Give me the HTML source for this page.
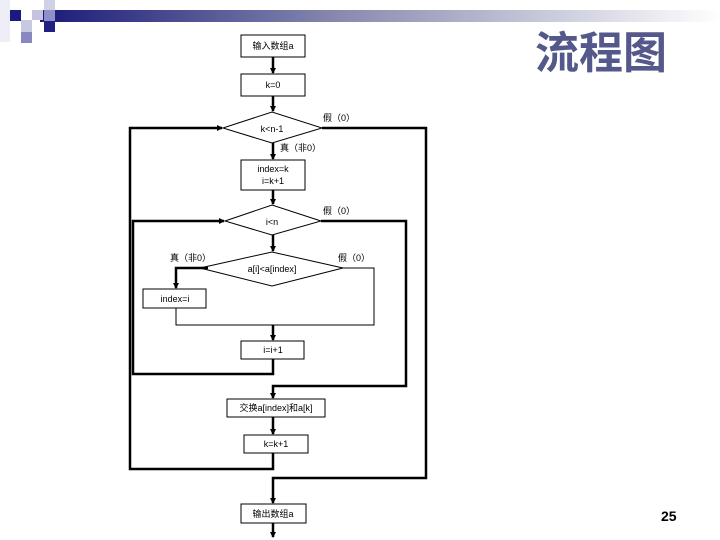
<!DOCTYPE html>
<html><head><meta charset="utf-8"><style>
html,body{margin:0;padding:0;background:#fff;}
svg{display:block;}
text{font-family:"Liberation Sans","Noto Sans CJK SC",sans-serif;}
</style></head><body>
<svg width="720" height="540" viewBox="0 0 720 540" xmlns="http://www.w3.org/2000/svg">
<defs>
<linearGradient id="g" x1="0" x2="1" y1="0" y2="0">
<stop offset="0" stop-color="#1a1a78"/><stop offset="0.45" stop-color="#8a8cb0"/><stop offset="1" stop-color="#ffffff"/>
</linearGradient>
<marker id="a" markerWidth="6" markerHeight="6" refX="5" refY="3" orient="auto" markerUnits="userSpaceOnUse">
<path d="M0,0 L6,3 L0,6 z" fill="#000"/></marker>
</defs>
<rect x="40" y="10" width="680" height="12" fill="url(#g)"/>
<rect x="0" y="0" width="10" height="42" fill="#eeeef6"/>
<rect x="10" y="10" width="11" height="11" fill="#1a1a80"/>
<rect x="21" y="20" width="11" height="12" fill="#c8c8e2"/>
<rect x="21" y="32" width="11" height="11" fill="#8888c0"/>
<rect x="32" y="10" width="11" height="10" fill="#c4c4e2"/>
<rect x="44" y="0" width="11" height="10" fill="#d0d0e8"/>
<rect x="44" y="10" width="11" height="11" fill="#9090c8"/>
<rect x="44" y="21" width="11" height="11" fill="#202080"/>
<text x="535" y="68" font-size="44" font-weight="bold" fill="#55588a" style="font-family:'Noto Sans CJK SC',sans-serif">流程图</text>
<text x="661" y="521" font-size="14" font-weight="bold" fill="#000">25</text>

<g fill="#fff" stroke="#000" stroke-width="1">
<rect x="241" y="35" width="64" height="22"/>
<rect x="241" y="74" width="64" height="22"/>
<polygon points="223,128 272,112 322,128 272,143"/>
<rect x="241" y="160" width="64" height="30"/>
<polygon points="225,221 272,205 321,221 272,235"/>
<polygon points="200,268 272,252 343,268 272,286"/>
<rect x="143" y="289" width="63" height="19"/>
<rect x="241" y="341" width="63" height="18"/>
<rect x="227" y="399" width="98" height="18"/>
<rect x="244" y="435" width="64" height="18"/>
<rect x="241" y="504" width="65" height="19"/>
</g>
<g fill="none" stroke="#000" stroke-width="1">
<polyline points="343,268 374,268 374,325 176,325 176,308"/>
</g>
<g fill="none" stroke="#000" stroke-width="2.5">
<line x1="273" y1="57" x2="273" y2="73" marker-end="url(#a)"/>
<line x1="273" y1="96" x2="273" y2="111" marker-end="url(#a)"/>
<line x1="273" y1="143" x2="273" y2="159" marker-end="url(#a)"/>
<line x1="273" y1="190" x2="273" y2="204" marker-end="url(#a)"/>
<line x1="273" y1="235" x2="273" y2="251" marker-end="url(#a)"/>
<polyline points="208,268 176,268 176,288" marker-end="url(#a)"/>
<line x1="273" y1="325" x2="273" y2="340" marker-end="url(#a)"/>
<polyline points="273,359 273,374 133,374 133,221 224,221" marker-end="url(#a)"/>
<polyline points="321,221 406,221 406,386 273,386 273,398" marker-end="url(#a)"/>
<line x1="273" y1="417" x2="273" y2="434" marker-end="url(#a)"/>
<polyline points="273,453 273,469 130,469 130,128 222,128" marker-end="url(#a)"/>
<polyline points="322,128 426,128 426,478 273,478 273,503" marker-end="url(#a)"/>
<line x1="273" y1="523" x2="273" y2="537" marker-end="url(#a)"/>
</g>
<g font-size="9" fill="#000" text-anchor="middle">
<text x="273" y="49">输入数组a</text>
<text x="273" y="88">k=0</text>
<text x="272" y="132">k&lt;n-1</text>
<text x="273" y="172">index=k</text>
<text x="273" y="184">i=k+1</text>
<text x="272" y="225">i&lt;n</text>
<text x="272" y="272">a[i]&lt;a[index]</text>
<text x="175" y="302">index=i</text>
<text x="273" y="353">i=i+1</text>
<text x="276" y="411">交换a[index]和a[k]</text>
<text x="276" y="447">k=k+1</text>
<text x="273" y="517">输出数组a</text>
</g>
<g font-size="9" fill="#000">
<text x="323" y="121">假（0）</text>
<text x="280" y="151">真（非0）</text>
<text x="323" y="214">假（0）</text>
<text x="170" y="261">真（非0）</text>
<text x="338" y="261">假（0）</text>
</g>
</svg>
</body></html>
